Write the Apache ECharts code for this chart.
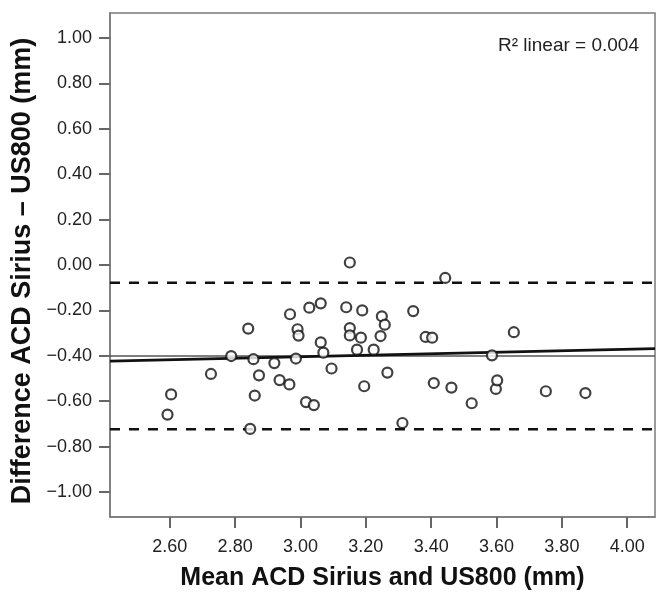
<!DOCTYPE html>
<html>
<head>
<meta charset="utf-8">
<script src="https://cdn.jsdelivr.net/npm/echarts@6/dist/echarts.min.js"></script>
<style>
  html, body { margin: 0; padding: 0; background: #fff; }
  #chart { width: 668px; height: 598px; }
</style>
</head>
<body>
<div id="chart"></div>
<script>
// Bland-Altman points: [mean, difference] (mm)
var points = [
  [2.593, -0.659], [2.604, -0.570], [2.726, -0.480], [2.788, -0.401],
  [2.840, -0.280], [2.846, -0.722], [2.856, -0.415], [2.860, -0.575],
  [2.873, -0.486], [2.920, -0.432], [2.936, -0.507], [2.966, -0.526],
  [2.968, -0.217], [2.986, -0.412], [2.991, -0.283], [2.994, -0.311],
  [3.017, -0.604], [3.027, -0.188], [3.041, -0.617], [3.062, -0.169],
  [3.062, -0.341], [3.070, -0.386], [3.095, -0.456], [3.140, -0.186],
  [3.151, 0.011], [3.151, -0.278], [3.151, -0.310], [3.173, -0.373],
  [3.185, -0.320], [3.189, -0.200], [3.195, -0.534], [3.224, -0.373],
  [3.245, -0.313], [3.249, -0.226], [3.258, -0.263], [3.266, -0.474],
  [3.312, -0.696], [3.345, -0.203], [3.383, -0.317], [3.403, -0.320],
  [3.408, -0.520], [3.443, -0.057], [3.462, -0.540], [3.524, -0.609],
  [3.586, -0.398], [3.598, -0.546], [3.602, -0.508], [3.653, -0.296],
  [3.751, -0.556], [3.872, -0.564]
]

var meanDiff = -0.401
var upperLimit = -0.078
var lowerLimit = -0.724
// fit line read at both ends of the plot
var regLine = [[2.417, -0.423], [4.085, -0.368]]

var xMin = 2.417, xMax = 4.085
var yMin = -1.11, yMax = 1.11
var xTicks = [2.6, 2.8, 3.0, 3.2, 3.4, 3.6, 3.8, 4.0]
var yTicks = [-1.0, -0.8, -0.6, -0.4, -0.2, 0.0, 0.2, 0.4, 0.6, 0.8, 1.0]

var font = 'Liberation Sans, Arial, sans-serif'

function fmt(v) {
  var s = Math.abs(v).toFixed(2)
  return v < -0.0001 ? '\u2212' + s : s
}

function hline(v) {
  return [[xMin, v], [xMax, v]]
}

var option = {
  animation: false,
  backgroundColor: '#fff',
  grid: {
    left: 110,
    right: 13,
    top: 13,
    bottom: 81,
    show: true,
    borderColor: '#7a7a7a',
    borderWidth: 1.5
  },
  xAxis: {
    type: 'value',
    min: xMin,
    max: xMax,
    name: 'Mean ACD Sirius and US800 (mm)',
    nameLocation: 'middle',
    nameGap: 49,
    nameTextStyle: { fontFamily: font, fontSize: 25, fontWeight: 'bold', color: '#111' },
    axisLine: { show: true, onZero: false, lineStyle: { color: '#7a7a7a', width: 1.5 } },
    axisTick: { show: true, length: 11, customValues: xTicks, lineStyle: { color: '#666', width: 2 } },
    axisLabel: {
      customValues: xTicks,
      margin: 21,
      fontFamily: font,
      fontSize: 18,
      color: '#222',
      formatter: fmt
    },
    splitLine: { show: false }
  },
  yAxis: {
    type: 'value',
    min: yMin,
    max: yMax,
    name: 'Difference ACD Sirius \u2013 US800 (mm)',
    nameLocation: 'middle',
    nameGap: 73,
    nameTextStyle: {
      fontFamily: font, fontSize: 27, fontWeight: 'bold', color: '#111',
      padding: [0, 12, 0, 0]
    },
    axisLine: { show: true, onZero: false, lineStyle: { color: '#7a7a7a', width: 1.5 } },
    axisTick: { show: true, length: 11, customValues: yTicks, lineStyle: { color: '#666', width: 2 } },
    axisLabel: {
      customValues: yTicks,
      margin: 18,
      fontFamily: font,
      fontSize: 18,
      color: '#222',
      formatter: fmt
    },
    splitLine: { show: false }
  },
  graphic: [
    {
      type: 'text',
      right: 29,
      top: 36,
      style: {
        text: 'R\u00b2 linear = 0.004',
        font: '19px ' + font,
        fill: '#222'
      }
    }
  ],
  series: [
    {
      type: 'line',
      data: hline(upperLimit),
      symbol: 'none',
      lineStyle: { color: '#111', width: 2.5, type: [10, 9] },
      z: 1
    },
    {
      type: 'line',
      data: hline(lowerLimit),
      symbol: 'none',
      lineStyle: { color: '#111', width: 2.5, type: [10, 9] },
      z: 1
    },
    {
      type: 'line',
      data: hline(meanDiff),
      symbol: 'none',
      lineStyle: { color: '#555', width: 1.5 },
      z: 1
    },
    {
      type: 'line',
      data: regLine,
      symbol: 'none',
      lineStyle: { color: '#111', width: 2.8 },
      z: 1
    },
    {
      type: 'scatter',
      data: points,
      symbol: 'circle',
      symbolSize: 10,
      itemStyle: { color: '#fff', borderColor: '#111', borderWidth: 2.2 },
      z: 3
    }
  ]
}

var chart = echarts.init(document.getElementById('chart'))
chart.setOption(option)
</script>
</body>
</html>
